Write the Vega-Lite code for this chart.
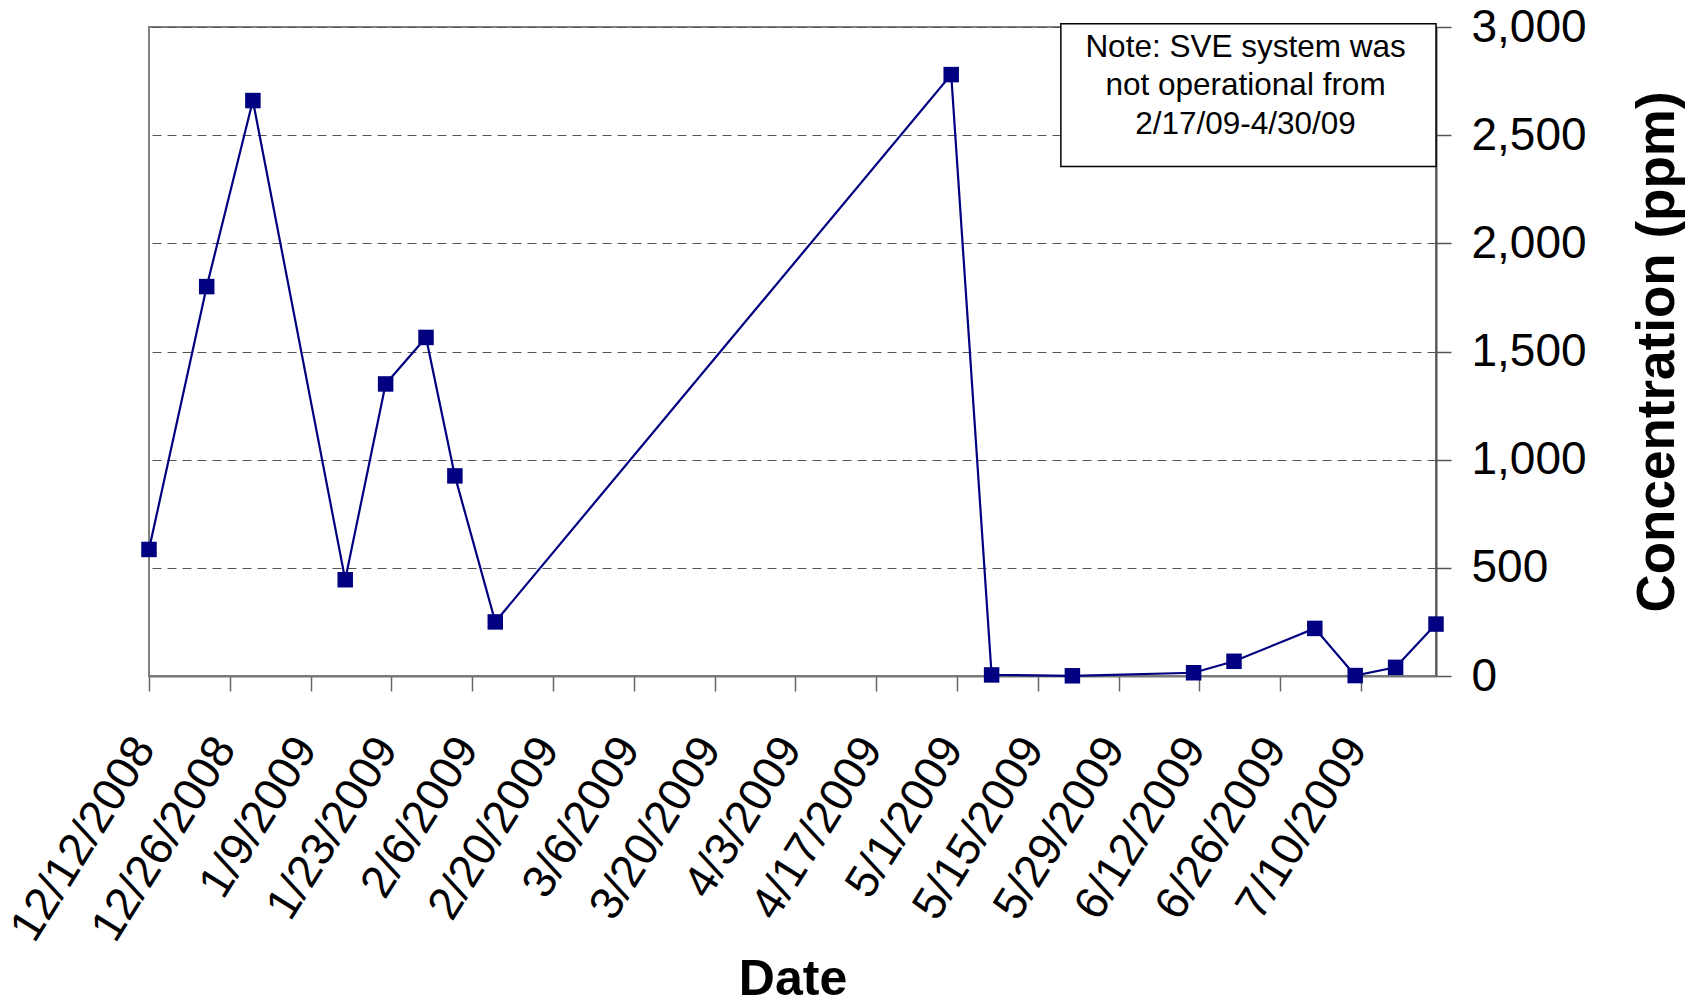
{
  "$schema": "https://vega.github.io/schema/vega-lite/v6.json",
  "width": 1287,
  "height": 649,
  "autosize": {"type": "none"},
  "padding": {"left": 149, "top": 27, "right": 260, "bottom": 328},
  "background": "white",
  "config": {
    "font": "Liberation Sans",
    "view": {"stroke": "#808080", "strokeWidth": 2}
  },
  "datasets": {
    "samples": [
      {"date": "2008-12-12", "ppm": 585},
      {"date": "2008-12-22", "ppm": 1800},
      {"date": "2008-12-30", "ppm": 2660},
      {"date": "2009-01-15", "ppm": 445},
      {"date": "2009-01-22", "ppm": 1350},
      {"date": "2009-01-29", "ppm": 1565},
      {"date": "2009-02-03", "ppm": 925},
      {"date": "2009-02-10", "ppm": 250},
      {"date": "2009-04-30", "ppm": 2780},
      {"date": "2009-05-07", "ppm": 5},
      {"date": "2009-05-21", "ppm": 1},
      {"date": "2009-06-11", "ppm": 15},
      {"date": "2009-06-18", "ppm": 68},
      {"date": "2009-07-02", "ppm": 220},
      {"date": "2009-07-09", "ppm": 2},
      {"date": "2009-07-16", "ppm": 40},
      {"date": "2009-07-23", "ppm": 240}
    ],
    "note": [
      {
        "start": "2009-05-19",
        "end": "2009-07-23",
        "mid": "2009-06-20",
        "low": 2355,
        "high": 3015,
        "textY": 2905,
        "label": ["Note: SVE system was", "not operational from", "2/17/09-4/30/09"]
      }
    ]
  },
  "layer": [
    {
      "data": {"name": "samples"},
      "mark": {"type": "line", "color": "#000080", "strokeWidth": 2.2},
      "encoding": {
        "x": {
          "field": "date",
          "type": "temporal",
          "scale": {
            "type": "utc",
            "domain": [
              {"year": 2008, "month": 12, "date": 12, "utc": true},
              {"year": 2009, "month": 7, "date": 23, "utc": true}
            ]
          },
          "axis": {
            "values": [
              {"year": 2008, "month": 12, "date": 12, "utc": true},
              {"year": 2008, "month": 12, "date": 26, "utc": true},
              {"year": 2009, "month": 1, "date": 9, "utc": true},
              {"year": 2009, "month": 1, "date": 23, "utc": true},
              {"year": 2009, "month": 2, "date": 6, "utc": true},
              {"year": 2009, "month": 2, "date": 20, "utc": true},
              {"year": 2009, "month": 3, "date": 6, "utc": true},
              {"year": 2009, "month": 3, "date": 20, "utc": true},
              {"year": 2009, "month": 4, "date": 3, "utc": true},
              {"year": 2009, "month": 4, "date": 17, "utc": true},
              {"year": 2009, "month": 5, "date": 1, "utc": true},
              {"year": 2009, "month": 5, "date": 15, "utc": true},
              {"year": 2009, "month": 5, "date": 29, "utc": true},
              {"year": 2009, "month": 6, "date": 12, "utc": true},
              {"year": 2009, "month": 6, "date": 26, "utc": true},
              {"year": 2009, "month": 7, "date": 10, "utc": true}
            ],
            "format": "%-m/%-d/%Y",
            "labelAngle": -58,
            "labelAlign": "right",
            "labelBaseline": "middle",
            "labelFontSize": 46,
            "labelColor": "#000000",
            "labelPadding": 50,
            "labelOffset": -5,
            "labelLimit": 0,
            "labelOverlap": false,
            "labelFlush": false,
            "tickSize": 15,
            "tickColor": "#666666",
            "tickWidth": 1.5,
            "domainColor": "#777777",
            "domainWidth": 2,
            "grid": false,
            "title": "Date",
            "titleFontSize": 50,
            "titleFontWeight": "bold",
            "titleColor": "#000000",
            "titleBaseline": "alphabetic",
            "titleY": 318
          }
        },
        "y": {
          "field": "ppm",
          "type": "quantitative",
          "scale": {"domain": [0, 3000], "nice": false, "zero": true},
          "axis": {
            "orient": "right",
            "values": [0, 500, 1000, 1500, 2000, 2500, 3000],
            "format": ",.0f",
            "labelFontSize": 46,
            "labelColor": "#000000",
            "labelPadding": 20,
            "labelFlush": false,
            "labelLimit": 0,
            "tickSize": 15,
            "tickColor": "#555555",
            "tickWidth": 1.5,
            "domainColor": "#555555",
            "domainWidth": 2,
            "grid": true,
            "gridColor": "#555555",
            "gridDash": [9, 6],
            "gridWidth": 1,
            "title": "Concentration (ppm)",
            "titleAngle": 270,
            "titleFontSize": 53,
            "titleFontWeight": "bold",
            "titleColor": "#000000",
            "titlePadding": 98
          }
        }
      }
    },
    {
      "data": {"name": "samples"},
      "mark": {"type": "point", "shape": "square", "filled": true, "size": 240, "color": "#000080", "opacity": 1},
      "encoding": {
        "x": {"field": "date", "type": "temporal"},
        "y": {"field": "ppm", "type": "quantitative"}
      }
    },
    {
      "data": {"name": "note"},
      "mark": {"type": "rect", "fill": "white", "stroke": "#000000", "strokeWidth": 1.5, "clip": false},
      "encoding": {
        "x": {"field": "start", "type": "temporal"},
        "x2": {"field": "end"},
        "y": {"field": "low", "type": "quantitative"},
        "y2": {"field": "high"}
      }
    },
    {
      "data": {"name": "note"},
      "mark": {"type": "text", "fontSize": 31.5, "color": "#000000", "align": "center", "baseline": "middle", "lineHeight": 38.5},
      "encoding": {
        "x": {"field": "mid", "type": "temporal"},
        "y": {"field": "textY", "type": "quantitative"},
        "text": {"field": "label"}
      }
    }
  ]
}
